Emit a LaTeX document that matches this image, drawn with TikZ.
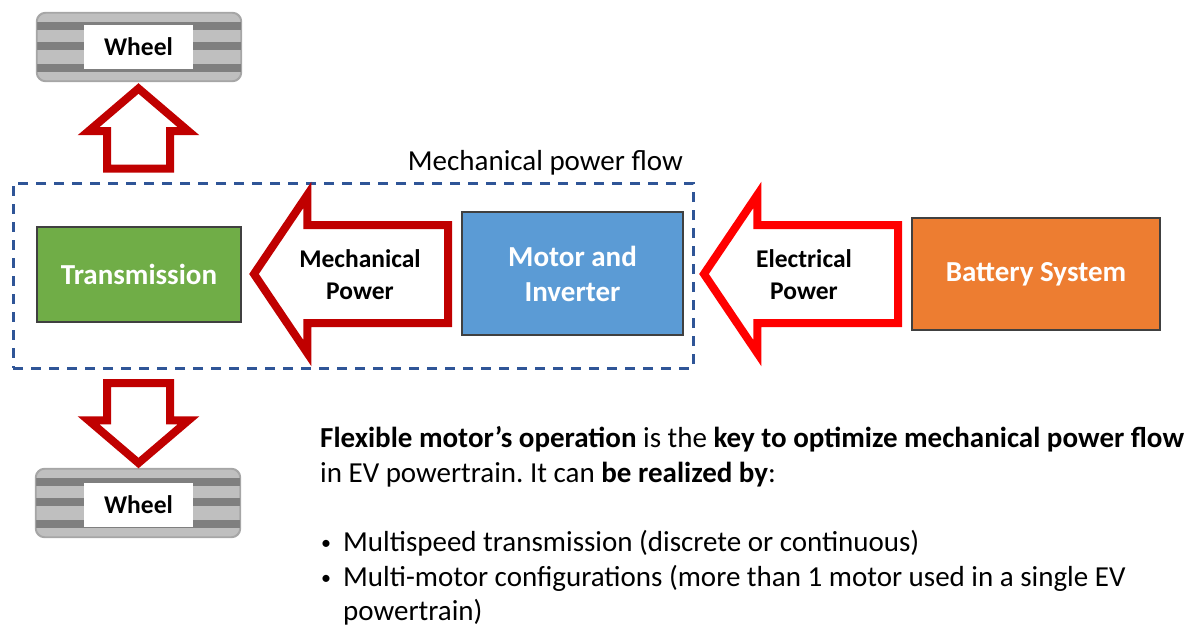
\documentclass[tikz,border=0pt]{standalone}
\usepackage{fontspec}
\setmainfont{Carlito}
\frenchspacing
\usetikzlibrary{shapes.arrows,calc}
\definecolor{dkred}{HTML}{C00000}
\definecolor{brred}{HTML}{FF0000}
\definecolor{trgreen}{HTML}{70AD47}
\definecolor{mtblue}{HTML}{5B9BD5}
\definecolor{btorange}{HTML}{ED7D31}
\definecolor{dashblue}{HTML}{2F5597}
\definecolor{wlight}{HTML}{BFBFBF}
\definecolor{wdark}{HTML}{7F7F7F}
\definecolor{wborder}{HTML}{A6A6A6}
\tikzset{
  blockbox/.style={draw=black!75, line width=1.2pt, text=white, align=center,
    inner sep=0pt, font=\bfseries\fontsize{29}{35}\selectfont},
  wheelbody/.style={draw=wborder, fill=wlight, line width=1.2pt, rounded corners=9pt,
    minimum width=204pt, minimum height=68pt, inner sep=0pt},
  wheellabel/.style={fill=white, minimum width=109pt, minimum height=44pt, inner sep=0pt,
    font=\bfseries\fontsize{25.5}{30}\selectfont},
  harrow/.style={single arrow, draw=#1, line width=8pt, miter limit=10, line join=miter,
    outer sep=0pt, inner xsep=0pt, inner ysep=45pt, single arrow head extend=30pt,
    single arrow tip angle=112, minimum height=194pt, minimum width=150pt, fill=white},
  varrow/.style={single arrow, draw=dkred, line width=8pt, line join=miter, miter limit=10,
    outer sep=0pt, inner xsep=0pt, inner ysep=27.5pt, single arrow head extend=18.5pt,
    single arrow tip angle=99, minimum height=80pt, minimum width=92pt, fill=white},
  arrowtext/.style={align=center, inner sep=0pt, font=\bfseries\fontsize{25.5}{32}\selectfont},
  bodytext/.style={anchor=base west, inner sep=0pt, font=\fontsize{29}{35}\selectfont},
  bullettext/.style={anchor=base west, inner sep=0pt, font=\fontsize{20}{24}\selectfont},
}
\begin{document}
\begin{tikzpicture}[x=1pt,y=-1pt]
\useasboundingbox (0,0) rectangle (1195,626);

% wheels
\node[wheelbody] (w1) at (139,47) {};
\node[wheelbody] (w2) at (138,503) {};
\foreach \w in {w1,w2}{
  \begin{scope}
    \clip[rounded corners=9pt] (\w.north west) rectangle (\w.south east);
    \fill[wdark] ($(\w.north west)+(0,10)$) rectangle ($(\w.north east)+(0,18)$);
    \fill[wdark] ($(\w.north west)+(0,30)$) rectangle ($(\w.north east)+(0,38)$);
    \fill[wdark] ($(\w.north west)+(0,52)$) rectangle ($(\w.north east)+(0,60)$);
  \end{scope}
  \draw[wborder, line width=1.2pt, rounded corners=9pt] (\w.north west) rectangle (\w.south east);
}
\node[wheellabel] (w1l) at (138.5,47) {Wheel};
\node[wheellabel] (w2l) at (138.5,504.5) {Wheel};

% dashed frame
\node[draw=dashblue, line width=3pt, dash pattern=on 10pt off 8pt,
  minimum width=680pt, minimum height=185pt, inner sep=0pt] (mpf) at (353,275.5) {};
\node[anchor=base east, inner sep=0pt, font=\fontsize{29}{35}\selectfont] (mpft) at (683,170) {Mechanical power flow};

% boxes
\node[blockbox, fill=trgreen, minimum width=204pt, minimum height=95pt] (trans) at (139,274.5) {Transmission};
\node[blockbox, fill=mtblue, minimum width=221pt, minimum height=123pt] (motor) at (572.5,273.5) {Motor and\\Inverter};
\node[blockbox, fill=btorange, minimum width=248pt, minimum height=112pt] (batt) at (1036,274) {Battery System};

% horizontal block arrows
\node[harrow=dkred, rotate=180, anchor=tip] (mech) at (254,274) {};
\node[arrowtext] (mecht) at (360,274.5) {Mechanical\\Power};
\node[harrow=brred, rotate=180, anchor=tip] (elec) at (704,274) {};
\node[arrowtext] (elect) at (804,274.5) {Electrical\\Power};

% vertical block arrows
\node[varrow, rotate=90, anchor=tip] (up) at (138.5,88.5) {};
\node[varrow, rotate=-90, anchor=tip] (down) at (138.5,463) {};

% body text
\node[bodytext] (l1) at (320,447) {\textbf{Flexible motor’s operation} is the \textbf{key to optimize mechanical power flow}};
\node[bodytext] (l2) at (320,482) {in EV powertrain. It can \textbf{be realized by}:};
\node[bullettext] (b1) at (321,549) {•};
\node[bodytext] (t1) at (343,551) {Multispeed transmission (discrete or continuous)};
\node[bullettext] (b2) at (321,584) {•};
\node[bodytext] (t2) at (343,586) {Multi-motor configurations (more than 1 motor used in a single EV};
\node[bodytext] (t3) at (343,620) {powertrain)};
\end{tikzpicture}
\end{document}
